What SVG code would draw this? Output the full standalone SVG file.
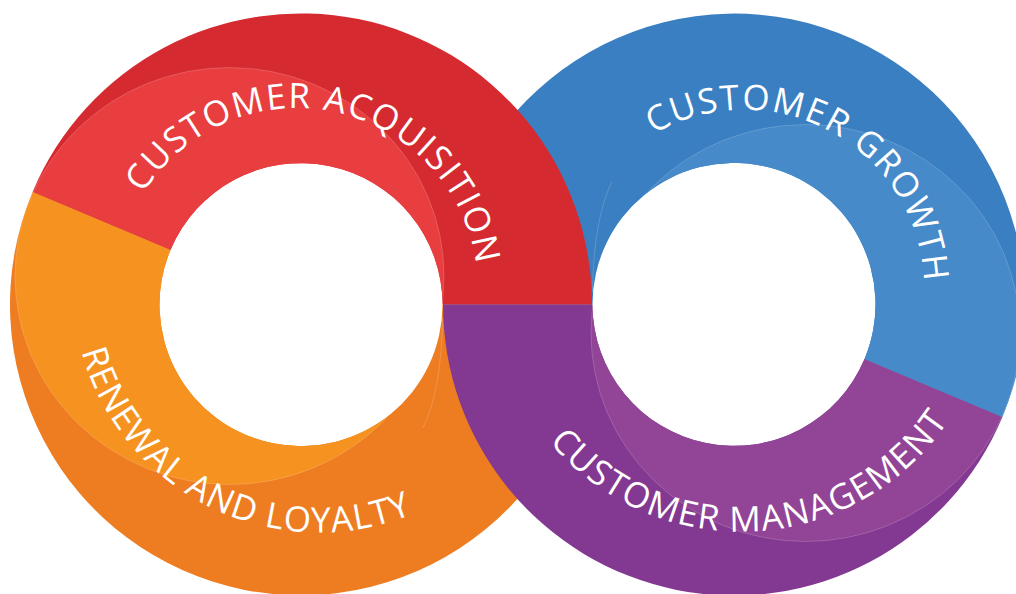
<svg xmlns="http://www.w3.org/2000/svg" width="1016" height="594" viewBox="0 0 1016 594">
<style>
.lbl{font-family:"Open Sans","Liberation Sans",sans-serif;font-size:35px;fill:#ffffff;}
.edge{fill:none;stroke:#ffffff;stroke-opacity:.25;stroke-width:.7}
.red{fill:#D52B30}.red-l{fill:#E83E40}
.org{fill:#EE7D22}.org-l{fill:#F69220}
.blu{fill:#3A7FC1}.blu-l{fill:#468AC9}
.pur{fill:#833992}.pur-l{fill:#924597}
</style>
<defs>
<path id="pBlue" d="M443,304.5 A291,291 0 1,1 1002.3,417.3 L864.4,359.3 A141.5,141.5 0 1,0 592.5,304.5 Z"/>
<path id="pOrange" d="M592,304.5 A291,291 0 1,1 32.7,191.7 L170.6,249.7 A141.5,141.5 0 1,0 442.5,304.5 Z"/>
<path id="pRed" d="M32.7,191.7 A291,291 0 0,1 592,304.5 L442.5,304.5 A141.5,141.5 0 0,0 170.6,249.7 Z"/>
<path id="pPurple" d="M1002.3,417.3 A291,291 0 0,1 443,304.5 L592.5,304.5 A141.5,141.5 0 0,0 864.4,359.3 Z"/>
<clipPath id="cBlue"><use href="#pBlue"/></clipPath>
<clipPath id="cOrange"><use href="#pOrange"/></clipPath>
<clipPath id="cRed"><use href="#pRed"/></clipPath>
<clipPath id="cPurple"><use href="#pPurple"/></clipPath>
<path id="tAcq" d="M143.2,193.6 A181,181 0 0,1 475.2,320.4"/>
<path id="tGrowth" d="M653.4,134.3 A180,180 0 0,1 921.5,321"/>
<path id="tRenewal" d="M81.4,351.5 A246.5,246.5 0 0,0 477.5,474.8"/>
<path id="tMgmt" d="M549.2,441.8 A249.6,249.6 0 0,0 975.5,367.4"/>
</defs>

<g id="customer-growth">
  <use href="#pBlue" class="blu"/>
  <g clip-path="url(#cBlue)">
    <ellipse cx="805.5" cy="333" rx="214.5" ry="208.5" class="blu-l"/>
    <ellipse cx="805.5" cy="333" rx="214.5" ry="208.5" class="edge"/>
    <path d="M592.5,291.5 Q593.5,219.5 612,181.5" class="edge"/>
  </g>
  <text class="lbl"><textPath href="#tGrowth" textLength="369.5" lengthAdjust="spacing">CUSTOMER GROWTH</textPath></text>
</g>

<g id="renewal-and-loyalty">
  <use href="#pOrange" class="org"/>
  <g clip-path="url(#cOrange)">
    <ellipse cx="229.5" cy="276" rx="214.5" ry="208.5" class="org-l"/>
    <ellipse cx="229.5" cy="276" rx="214.5" ry="208.5" class="edge"/>
    <path d="M442.5,318 Q441.5,390 423,428" class="edge"/>
  </g>
  <text class="lbl"><textPath href="#tRenewal" textLength="416" lengthAdjust="spacing">RENEWAL AND LOYALTY</textPath></text>
</g>

<g id="customer-acquisition">
  <use href="#pRed" class="red"/>
  <g clip-path="url(#cRed)">
    <ellipse cx="229.5" cy="276" rx="214.5" ry="208.5" class="red-l"/>
    <ellipse cx="229.5" cy="276" rx="214.5" ry="208.5" class="edge"/>
  </g>
  <text class="lbl"><textPath href="#tAcq" textLength="442.6" lengthAdjust="spacing">CUSTOMER ACQUISITION</textPath></text>
</g>

<g id="customer-management">
  <use href="#pPurple" class="pur"/>
  <g clip-path="url(#cPurple)">
    <ellipse cx="805.5" cy="333" rx="214.5" ry="208.5" class="pur-l"/>
    <ellipse cx="805.5" cy="333" rx="214.5" ry="208.5" class="edge"/>
  </g>
  <text class="lbl"><textPath href="#tMgmt" textLength="463" lengthAdjust="spacing">CUSTOMER MANAGEMENT</textPath></text>
</g>
</svg>
